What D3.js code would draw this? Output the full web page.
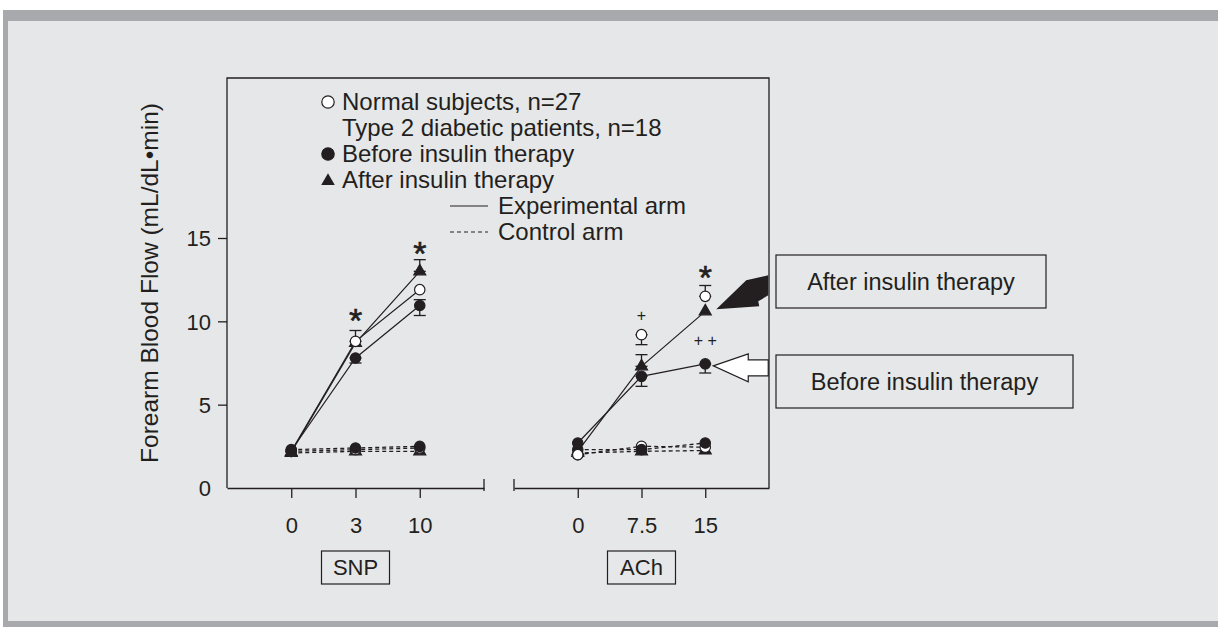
<!DOCTYPE html>
<html lang="en">
<head>
<meta charset="UTF-8">
<script src="https://cdn.jsdelivr.net/npm/d3@7"></script>
<title>Forearm Blood Flow</title>
<style>
    body { margin: 0; background: #fff; }
    svg text { font-family: "Liberation Sans", Arial, Helvetica, sans-serif; fill: #231f20; }
</style>
</head>
<body>
<svg id="chart" width="1218" height="627"></svg>
<script>
    // ---- data ----
    const yTicks = [0, 5, 10, 15];
    const snpDoses = ["0", "3", "10"];
    const achDoses = ["0", "7.5", "15"];

    // SNP panel, experimental (solid) and control (dashed) arm
    const snpNormalExp = [2.2, 8.8, 11.9];
    const snpBeforeExp = [2.25, 7.8, 10.95];
    const snpAfterExp = [2.15, 8.7, 13.0];
    const snpNormalCtl = [2.2, 2.3, 2.4];
    const snpBeforeCtl = [2.3, 2.4, 2.5];
    const snpAfterCtl = [2.1, 2.2, 2.2];

    // ACh panel
    const achNormalExp = [2.0, 9.2, 11.5];
    const achBeforeExp = [2.7, 6.7, 7.45];
    const achAfterExp = [2.2, 7.3, 10.6];
    const achNormalCtl = [2.0, 2.5, 2.45];
    const achBeforeCtl = [2.3, 2.3, 2.7];
    const achAfterCtl = [2.1, 2.2, 2.25];

    // error bars: dose, low, high
    const snpErrors = [["3", 8.8, 9.45], ["3", 7.5, 7.8], ["10", 13.0, 13.7], ["10", 10.35, 11.3]];
    const achErrors = [["7.5", 8.6, 9.2], ["7.5", 7.3, 8.0], ["7.5", 6.1, 6.7], ["15", 11.5, 12.15], ["15", 6.9, 7.45]];

    // significance marks: dose, height, symbol
    const snpMarks = [["3", 10.5, "*"], ["10", 14.5, "*"]];
    const achMarks = [["15", 13.1, "*"], ["7.5", 10.3, "+"], ["15", 8.8, "+ +"]];

    const legendLabels = ["Normal subjects, n=27", "Type 2 diabetic patients, n=18",
        "Before insulin therapy", "After insulin therapy", "Experimental arm", "Control arm"];
    const calloutLabels = ["After insulin therapy", "Before insulin therapy"];
    const agentLabels = ["SNP", "ACh"];
    const yLabel = "Forearm Blood Flow (mL/dL\u2022min)";

    // ---- setup ----
    const ink = "#231f20";
    const svg = d3.select("#chart");

    svg.append("rect").attr("x", 3).attr("y", 10).attr("width", 1215).attr("height", 617).attr("fill", "#a7a9ac");
    svg.append("rect").attr("x", 8).attr("y", 21).attr("width", 1210).attr("height", 600).attr("fill", "#e6e7e8");

    const plotTop = 78;
    const y = d3.scaleLinear().domain([0, 15]).range([488, 238]);
    const xSnp = d3.scalePoint().domain(snpDoses).range([227, 484]).padding(1);
    const xAch = d3.scalePoint().domain(achDoses).range([514, 769]).padding(1);

    // frame of the plot (left, top, right)
    svg.append("path")
        .attr("d", `M227,${y(0)}V${plotTop}H769V${y(0)}`)
        .attr("fill", "none").attr("stroke", ink).attr("stroke-width", 1.3);

    // y axis
    const yAxis = svg.append("g")
        .attr("transform", "translate(227,0)")
        .call(d3.axisLeft(y).tickValues(yTicks).tickSize(9).tickPadding(7).tickSizeOuter(0));
    yAxis.select(".domain").remove();
    yAxis.selectAll(".tick").filter(d => d === 0).select("line").remove();
    yAxis.selectAll("line").attr("stroke", ink).attr("stroke-width", 1.3);
    yAxis.selectAll("text").attr("font-size", 22).attr("font-family", null).attr("dy", "0.36em");

    // x axes
    [[xSnp, xSnp.range()[1]], [xAch, xAch.range()[0]]].forEach(([sc, capX], i) => {
        const g = svg.append("g")
            .attr("transform", `translate(0,${y(0)})`)
            .call(d3.axisBottom(sc).tickSize(10).tickPadding(19).tickSizeOuter(0));
        g.select(".domain").attr("stroke", ink).attr("stroke-width", 1.3);
        g.selectAll("line").attr("stroke", ink).attr("stroke-width", 1.3);
        g.selectAll("text").attr("font-size", 22).attr("font-family", null);
        g.append("line").attr("x1", capX).attr("x2", capX).attr("y1", -9).attr("y2", 3)
            .attr("stroke", ink).attr("stroke-width", 1.3);

        // agent box under axis
        const cx = sc(sc.domain()[1]);
        svg.append("rect").attr("x", cx - 34).attr("y", 551).attr("width", 68).attr("height", 33)
            .attr("fill", "none").attr("stroke", ink).attr("stroke-width", 1.2);
        svg.append("text").attr("x", cx).attr("y", 575).attr("text-anchor", "middle")
            .attr("font-size", 22).text(agentLabels[i]);
    });

    // y label
    svg.append("text")
        .attr("transform", "translate(158,283) rotate(-90)")
        .attr("text-anchor", "middle").attr("font-size", 24.5)
        .text(yLabel);

    // ---- series ----
    const circle = d3.symbol().type(d3.symbolCircle).size(85);
    const tri = d3.symbol().type(d3.symbolTriangle).size(62);

    const panels = [
        { x: xSnp, doses: snpDoses, errors: snpErrors, marks: snpMarks, normalLine: true,
          exp: [snpAfterExp, snpNormalExp, snpBeforeExp], ctl: [snpAfterCtl, snpNormalCtl, snpBeforeCtl] },
        { x: xAch, doses: achDoses, errors: achErrors, marks: achMarks, normalLine: false,
          exp: [achAfterExp, achNormalExp, achBeforeExp], ctl: [achAfterCtl, achNormalCtl, achBeforeCtl] }
    ];
    const kinds = ["after", "normal", "before"];

    panels.forEach(p => {
        const line = d3.line().x((d, i) => p.x(p.doses[i])).y(d => y(d));

        p.ctl.forEach(s => {
            svg.append("path").attr("d", line(s)).attr("fill", "none")
                .attr("stroke", ink).attr("stroke-width", 1.3).attr("stroke-dasharray", "4,3");
        });
        p.exp.forEach((s, k) => {
            if (kinds[k] === "normal" && !p.normalLine) return;
            svg.append("path").attr("d", line(s)).attr("fill", "none")
                .attr("stroke", ink).attr("stroke-width", 1.2);
        });

        // error bars
        p.errors.forEach(([dose, lo, hi]) => {
            const cx = p.x(dose);
            const g = svg.append("g").attr("stroke", ink).attr("stroke-width", 1.3);
            g.append("line").attr("x1", cx).attr("x2", cx).attr("y1", y(lo)).attr("y2", y(hi));
            [lo, hi].forEach(v => g.append("line").attr("x1", cx - 6).attr("x2", cx + 6)
                .attr("y1", y(v)).attr("y2", y(v)));
        });

        // markers: triangles, then open, then filled circles
        [p.ctl, p.exp].forEach(group => {
            group.forEach((s, k) => {
                svg.selectAll(null).data(s).enter().append("path")
                    .attr("transform", (d, i) => `translate(${p.x(p.doses[i])},${y(d)})`)
                    .attr("d", kinds[k] === "after" ? tri() : circle())
                    .attr("fill", kinds[k] === "normal" ? "#fff" : ink)
                    .attr("stroke", ink).attr("stroke-width", 1.2);
            });
        });

        // significance marks
        p.marks.forEach(([dose, v, sym]) => {
            const big = sym === "*";
            svg.append("text")
                .attr("x", p.x(dose)).attr("y", y(v) + (big ? 19 : 5))
                .attr("text-anchor", "middle")
                .attr("font-size", big ? 34 : 16)
                .attr("stroke", big ? ink : null).attr("stroke-width", big ? 0.6 : null)
                .text(sym);
        });
    });

    // ---- legend ----
    const lx = 328, tx = 342, ly0 = 102, lstep = 26;
    legendLabels.forEach((lab, i) => {
        const ly = ly0 + i * lstep;
        if (i === 0 || i === 2) {
            svg.append("circle").attr("cx", lx).attr("cy", ly).attr("r", 6.2)
                .attr("fill", i === 0 ? "#fff" : ink).attr("stroke", ink).attr("stroke-width", 1.2);
        }
        if (i === 3) {
            svg.append("path").attr("transform", `translate(${lx},${ly + 1})`)
                .attr("d", d3.symbol().type(d3.symbolTriangle).size(80)()).attr("fill", ink);
        }
        if (i >= 4) {
            svg.append("line").attr("x1", 450).attr("x2", 488).attr("y1", ly).attr("y2", ly)
                .attr("stroke", ink).attr("stroke-width", 1.2)
                .attr("stroke-dasharray", i === 5 ? "4,3" : null);
        }
        svg.append("text").attr("x", i >= 4 ? 498 : tx).attr("y", ly + 8)
            .attr("font-size", 24).text(lab);
    });

    // ---- callouts ----
    const boxes = [[776, 255, 270, 53], [776, 355, 297, 53]];
    boxes.forEach(([bx, by, bw, bh], i) => {
        svg.append("rect").attr("x", bx).attr("y", by).attr("width", bw).attr("height", bh)
            .attr("fill", "none").attr("stroke", ink).attr("stroke-width", 1.2);
        svg.append("text").attr("x", bx + bw / 2).attr("y", by + bh / 2 + 8)
            .attr("text-anchor", "middle").attr("font-size", 23.5).text(calloutLabels[i]);
    });

    // black arrow to the after-therapy point at 15
    const tipA = [xAch("15") + 11, y(achAfterExp[2]) - 2];
    const blackArrow = [[0, 0], [30, -29], [52, -34], [52, -14], [42, -8], [43, -3]];
    svg.append("polygon")
        .attr("points", blackArrow.map(([dx, dy]) => [tipA[0] + dx, tipA[1] + dy].join(",")).join(" "))
        .attr("fill", ink);

    // white arrow to the before-therapy point at 15
    const tipB = [xAch("15") + 8, y(achBeforeExp[2]) + 2];
    const whiteArrow = [[0, 0], [35, -12], [35, -6], [55, -6], [55, 10], [35, 10], [35, 16]];
    svg.append("polygon")
        .attr("points", whiteArrow.map(([dx, dy]) => [tipB[0] + dx, tipB[1] + dy].join(",")).join(" "))
        .attr("fill", "#fff").attr("stroke", ink).attr("stroke-width", 1.2);
</script>
</body>
</html>
